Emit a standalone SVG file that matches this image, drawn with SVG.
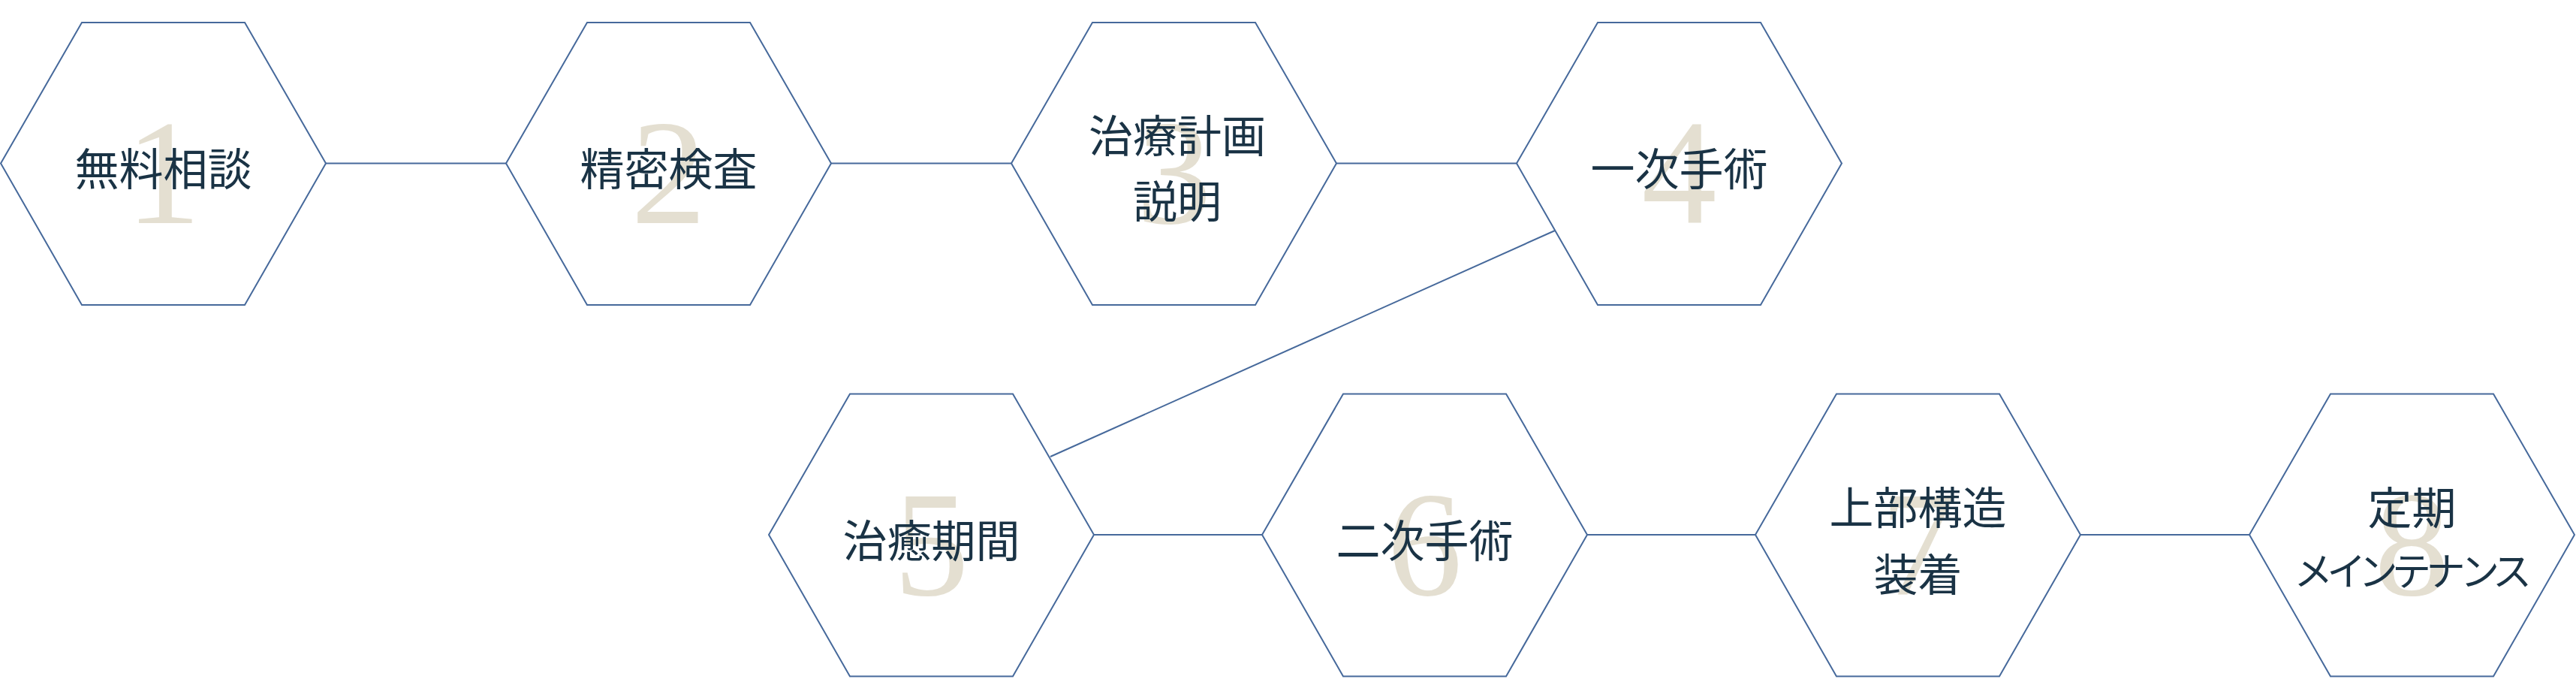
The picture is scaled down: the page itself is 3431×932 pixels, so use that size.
<svg xmlns="http://www.w3.org/2000/svg" xmlns:xlink="http://www.w3.org/1999/xlink" width="3431" height="932" viewBox="0 0 3431 932">
<style>
.hex{fill:#ffffff;stroke:#46699b;stroke-width:2}
.con line{stroke:#46699b;stroke-width:2}
.num{font-family:"Liberation Serif","Times New Roman",serif;font-size:200px;fill:#e4dfd1;text-anchor:middle}
.lbl{font-family:"Noto Sans CJK JP","Noto Sans CJK SC",sans-serif;font-size:59px;fill:#1a3345;text-anchor:middle;dominant-baseline:central}
.kana{font-feature-settings:"palt";font-size:52px;letter-spacing:-2.5px}
</style>
<defs>
<polygon id="hx" points="0,187.5 108,0 325,0 433,187.5 325,376 108,376"/>
</defs>
<rect width="3431" height="932" fill="#ffffff"/>
<g id="connectors" class="con">
<line x1="434" y1="217.5" x2="674" y2="217.5"/>
<line x1="1107" y1="217.5" x2="1347" y2="217.5"/>
<line x1="1780" y1="217.5" x2="2020" y2="217.5"/>
<line x1="2071" y1="307" x2="1399" y2="608"/>
<line x1="1457" y1="712" x2="1681" y2="712"/>
<line x1="2114" y1="712" x2="2338" y2="712"/>
<line x1="2771" y1="712" x2="2996" y2="712"/>
</g>
<g id="node1"><use xlink:href="#hx" class="hex" x="1" y="30"/><text class="num" x="217.5" y="297">1</text><text class="lbl" x="217.5" y="221">無料相談</text></g>
<g id="node2"><use xlink:href="#hx" class="hex" x="674" y="30"/><text class="num" x="890.5" y="297">2</text><text class="lbl" x="890.5" y="221">精密検査</text></g>
<g id="node3"><use xlink:href="#hx" class="hex" x="1347" y="30"/><text class="num" x="1563.5" y="297">3</text><text class="lbl" x="1568" y="177">治療計画</text><text class="lbl" x="1568" y="264">説明</text></g>
<g id="node4"><use xlink:href="#hx" class="hex" x="2020" y="30"/><text class="num" x="2236.5" y="297">4</text><text class="lbl" x="2236.5" y="221">一次手術</text></g>
<g id="node5"><use xlink:href="#hx" class="hex" x="1024" y="524.5"/><text class="num" x="1240.5" y="792">5</text><text class="lbl" x="1240.5" y="716">治癒期間</text></g>
<g id="node6"><use xlink:href="#hx" class="hex" x="1681" y="524.5"/><text class="num" x="1897.5" y="792">6</text><text class="lbl" x="1897.5" y="716">二次手術</text></g>
<g id="node7"><use xlink:href="#hx" class="hex" x="2338" y="524.5"/><text class="num" x="2554.5" y="792">7</text><text class="lbl" x="2554.5" y="672">上部構造</text><text class="lbl" x="2554.5" y="761">装着</text></g>
<g id="node8"><use xlink:href="#hx" class="hex" x="2996" y="524.5"/><text class="num" x="3212.5" y="792">8</text><text class="lbl" x="3212.5" y="672">定期</text><text class="lbl kana" x="3212.5" y="757">メインテナンス</text></g>
</svg>
